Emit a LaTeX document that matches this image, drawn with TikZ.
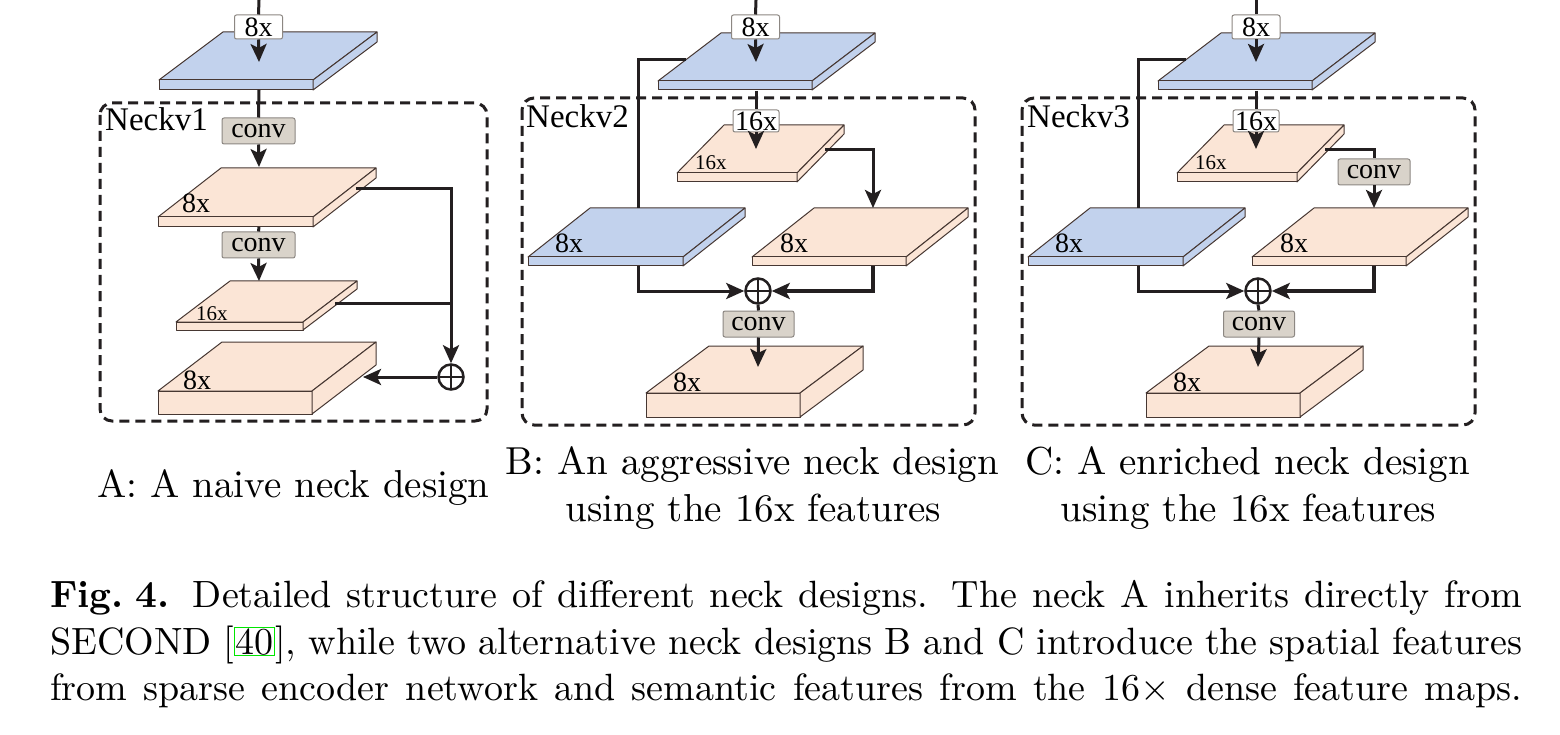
\documentclass[tikz,border=0pt]{standalone}
\usepackage{fontspec}
\setmainfont{lmroman10-regular.otf}[BoldFont=lmroman10-bold.otf, ItalicFont=lmroman10-italic.otf]
\newfontfamily\tnr{Liberation Serif}
\usetikzlibrary{arrows.meta}
\definecolor{slabblue}{RGB}{194,210,237}
\definecolor{slabpink}{RGB}{251,229,214}
\definecolor{convfill}{RGB}{217,211,202}
\definecolor{convline}{RGB}{140,135,130}
\definecolor{ink}{RGB}{35,31,32}
\definecolor{edge}{RGB}{70,55,50}
\definecolor{linkgreen}{RGB}{0,230,0}
\newcommand\slab[7]{%
  \filldraw[slabedge, fill=#7] (#1,#2) -- ++(#3,0) -- ++(#4,-#5) -- ++(-#3,0) -- cycle;
  \filldraw[slabedge, fill=#7] (#1,#2) rectangle ++(#3,#6);
  \filldraw[slabedge, fill=#7] (#1,#2) ++(#3,0) -- ++(#4,-#5) -- ++(0,#6) -- ++(-#4,#5) -- cycle;
}
\tikzset{
  slabedge/.style={draw=edge, line width=1pt, line join=round},
  flow/.style={draw=ink, line width=3pt},
  arr/.style={flow, -{Stealth[length=18pt,width=16pt,inset=4pt]}},
  convbox/.style={draw=convline, fill=convfill, rounded corners=2pt, line width=1pt,
    minimum width=73pt, minimum height=26pt, inner sep=0pt, font=\tnr\fontsize{28}{28}\selectfont},
  tagbox/.style={draw=convline, fill=white, rounded corners=2pt, line width=1pt,
    minimum width=48pt, minimum height=24pt, inner sep=0pt, font=\tnr\fontsize{28}{28}\selectfont},
  neckbox/.style={draw=ink, line width=3pt, dash pattern=on 10pt off 6pt, rounded corners=12pt},
  sum/.style={circle, draw=ink, line width=2.5pt, minimum size=25pt, inner sep=0pt,
    path picture={\draw[ink, line width=2.5pt] (path picture bounding box.north) -- (path picture bounding box.south)
      (path picture bounding box.west) -- (path picture bounding box.east);}},
  slablbl/.style={inner sep=0pt, anchor=base west, font=\tnr\fontsize{28}{28}\selectfont},
  smalllbl/.style={inner sep=0pt, anchor=base west, font=\tnr\fontsize{21}{21}\selectfont},
  necklbl/.style={inner sep=0pt, anchor=base west, font=\tnr\fontsize{33}{33}\selectfont},
  caplbl/.style={inner sep=0pt, font=\fontsize{39}{44}\selectfont},
  figcap/.style={inner sep=0pt, anchor=base west, font=\fontsize{38}{46}\selectfont},
}
\begin{document}
\begin{tikzpicture}[x=1pt,y=-1pt]
\useasboundingbox (0,0) rectangle (1560,735);
\fill[white] (0,0) rectangle (1560,735);

% ---------------- dashed neck boxes
\draw[neckbox] (100,103) rectangle (487,421);
\draw[neckbox] (522,98) rectangle (975,425);
\draw[neckbox] (1022,98) rectangle (1475,425);

% ---------------- Panel A
\slab{159}{80}{154}{64}{48}{10}{slabblue}
\slab{158}{217}{155}{63}{49}{10}{slabpink}
\slab{176}{322}{127}{54}{41}{8}{slabpink}
\slab{158}{391}{154}{64}{49}{23}{slabpink}
\node[slablbl] (lA1) at (182,213) {8x};
\node[smalllbl] (lA2) at (196,320) {16x};
\node[slablbl] (lA3) at (183,389) {8x};
\node[necklbl] (nA) at (105,131) {Neckv1};

\coordinate (A0) at (259,0);
\node[tagbox] (A8) at (258.5,27) {8x};
\coordinate (A1) at (259,62);
\coordinate (A2) at (259,90);
\node[convbox] (Ac1) at (258.5,131) {conv};
\coordinate (A3) at (259,167);
\coordinate (A4) at (259,227);
\node[convbox] (Ac2) at (258.5,245) {conv};
\coordinate (A5) at (259,281);
\coordinate (A6) at (356,189);
\coordinate (A6b) at (451,189);
\coordinate (A7) at (335,303);
\coordinate (A7b) at (451,303);
\node[sum] (As) at (451,377) {};
\coordinate (A9) at (363,377);

\draw[flow] (A0) -- (A8.north);
\draw[arr] (A8.south) -- (A1);
\draw[flow] (A2) -- (Ac1.north);
\draw[arr] (Ac1.south) -- (A3);
\draw[flow] (A4) -- (Ac2.north);
\draw[arr] (Ac2.south) -- (A5);
\draw[arr] (A6) -- (A6b) -- (As.north);
\draw[flow] (A7) -- (A7b);
\draw[arr] (As.west) -- (A9);

% ---------------- Panel B
\slab{658}{81}{154}{63}{48}{9}{slabblue}
\slab{677}{173}{120}{47}{48}{9}{slabpink}
\slab{528}{257}{155}{62}{49}{9}{slabblue}
\slab{752}{257}{154}{62}{49}{9}{slabpink}
\slab{646}{393}{154}{63}{47}{24}{slabpink}
\node[smalllbl] (lB1) at (695,170) {16x};
\node[slablbl] (lB2) at (555,253) {8x};
\node[slablbl] (lB3) at (780,253) {8x};
\node[slablbl] (lB4) at (673,391) {8x};
\node[necklbl] (nB) at (526,128) {Neckv2};

\coordinate (B0) at (756,0);
\node[tagbox] (B8) at (755.5,27) {8x};
\coordinate (B1) at (756,62);
\coordinate (B2) at (756,91);
\node[tagbox, minimum width=46pt, minimum height=22pt] (B16) at (756,121) {16x};
\coordinate (B3) at (756,149);
\coordinate (B4) at (686,60);
\coordinate (B4a) at (638,60);
\coordinate (B4b) at (638,208);
\coordinate (B5) at (638,266);
\coordinate (B5a) at (638,291);
\coordinate (B6) at (825,150);
\coordinate (B6a) at (873,150);
\coordinate (B6b) at (873,208);
\coordinate (B7) at (873,266);
\coordinate (B7a) at (873,291);
\node[sum] (Bs) at (758,291) {};
\node[convbox, minimum width=71pt] (Bc) at (758.5,324) {conv};
\coordinate (B9) at (758,367);

\draw[flow] (B0) -- (B8.north);
\draw[arr] (B8.south) -- (B1);
\draw[flow] (B2) -- (B16.north);
\draw[arr] (B16.south) -- (B3);
\draw[flow] (B4) -- (B4a) -- (B4b);
\draw[arr] (B5) -- (B5a) -- (Bs.west);
\draw[arr] (B6) -- (B6a) -- (B6b);
\draw[arr, line width=4pt] (B7) -- (B7a) -- (Bs.east);
\draw[flow] (Bs.south) -- (Bc.north);
\draw[arr] (Bc.south) -- (B9);

% ---------------- Panel C
\begin{scope}[xshift=500pt]
\slab{658}{81}{154}{63}{48}{9}{slabblue}
\slab{677}{173}{120}{47}{48}{9}{slabpink}
\slab{528}{257}{155}{62}{49}{9}{slabblue}
\slab{752}{257}{154}{62}{49}{9}{slabpink}
\slab{646}{393}{154}{63}{47}{24}{slabpink}
\node[smalllbl] (lC1) at (695,170) {16x};
\node[slablbl] (lC2) at (555,253) {8x};
\node[slablbl] (lC3) at (780,253) {8x};
\node[slablbl] (lC4) at (673,391) {8x};
\node[necklbl] (nC) at (527,128) {Neckv3};

\coordinate (C0) at (756,0);
\node[tagbox] (C8) at (756,27) {8x};
\coordinate (C1) at (756,62);
\coordinate (C2) at (756,91);
\node[tagbox, minimum width=46pt, minimum height=22pt] (C16) at (756,121) {16x};
\coordinate (C3) at (756,149);
\coordinate (C4) at (686,60);
\coordinate (C4a) at (638,60);
\coordinate (C4b) at (638,208);
\coordinate (C5) at (638,266);
\coordinate (C5a) at (638,291);
\coordinate (C6) at (825,150);
\coordinate (C6a) at (874,150);
\node[convbox, minimum width=72pt] (Cc2) at (874,172) {conv};
\coordinate (C6b) at (874,208);
\coordinate (C7) at (874,266);
\coordinate (C7a) at (874,291);
\node[sum] (Cs) at (758,291) {};
\node[convbox, minimum width=71pt] (Cc) at (759,324) {conv};
\coordinate (C9) at (758,367);

\draw[flow] (C0) -- (C8.north);
\draw[arr] (C8.south) -- (C1);
\draw[flow] (C2) -- (C16.north);
\draw[arr] (C16.south) -- (C3);
\draw[flow] (C4) -- (C4a) -- (C4b);
\draw[arr] (C5) -- (C5a) -- (Cs.west);
\draw[flow] (C6) -- (C6a) -- (Cc2.north);
\draw[arr] (Cc2.south) -- (C6b);
\draw[arr, line width=4pt] (C7) -- (C7a) -- (Cs.east);
\draw[flow] (Cs.south) -- (Cc.north);
\draw[arr] (Cc.south) -- (C9);
\end{scope}

% ---------------- sub-captions
\node[caplbl, anchor=base west] (capA) at (97,497) {A: A naive neck design};
\node[caplbl, anchor=base] (capB1) at (752.5,474) {B: An aggressive neck design};
\node[caplbl, anchor=base] (capB2) at (753.5,521) {using the 16x features};
\node[caplbl, anchor=base] (capC1) at (1247.5,474) {C: A enriched neck design};
\node[caplbl, anchor=base] (capC2) at (1248.5,521) {using the 16x features};

% ---------------- figure caption
\node[figcap] (fc1) at (50,607) {\makebox[1472pt][s]{\textbf{Fig.\kern0.3em4.} Detailed structure of different neck designs. The neck A inherits directly from}};
\node[figcap] (fc2) at (50,654) {\makebox[1472pt][s]{SECOND [{\fboxsep=0.5pt\fboxrule=1pt\color{linkgreen}\fbox{\color{black}40}}], while two alternative neck designs B and C introduce the spatial features}};
\node[figcap] (fc3) at (50,700) {\makebox[1472pt][s]{from sparse encoder network and semantic features from the 16× dense feature maps.}};
\end{tikzpicture}
\end{document}
